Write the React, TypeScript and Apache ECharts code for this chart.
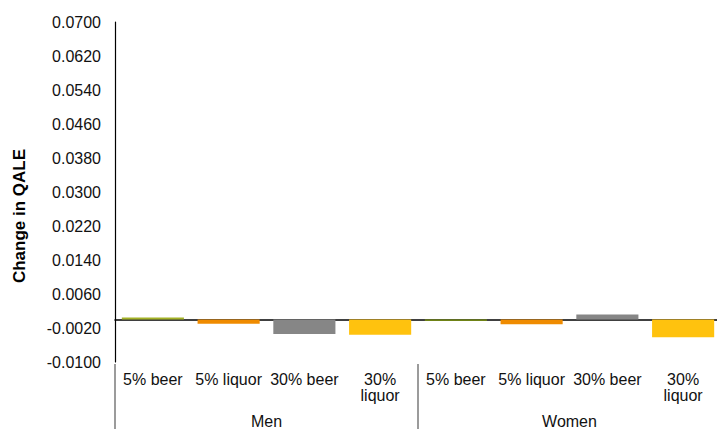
import React, { useEffect, useRef } from "react";
import * as echarts from "echarts";

// Beverage scenarios, grouped by sex
const categories = [
  "5% beer",
  "5% liquor",
  "30% beer",
  "30% liquor",
  "5% beer",
  "5% liquor",
  "30% beer",
  "30% liquor",
];
const groups = ["Men", "Women"];

// Change in quality-adjusted life expectancy per scenario
const qaleChange = [0.0005, -0.001, -0.0034, -0.0036, -0.0003, -0.0011, 0.0012, -0.0042];

// Bar fill for each scenario
const barColors = [
  "#a4b226",
  "#ef8b00",
  "#868686",
  "#ffc20e",
  "#7f9a08",
  "#ef8b00",
  "#868686",
  "#ffc20e",
];

// Y axis range and step
const yMin = -0.01;
const yMax = 0.07;
const yStep = 0.008;

const FONT = "Liberation Sans";

export default function App() {
  const ref = useRef<HTMLDivElement>(null);

  useEffect(() => {
    if (!ref.current) return;
    const chart = echarts.init(ref.current, null, { renderer: "svg" });
    chart.setOption({
      animation: false,
      backgroundColor: "#ffffff",
      textStyle: { fontFamily: FONT },
      grid: {
        left: 115,
        top: 22,
        width: 606,
        height: 340,
        containLabel: false,
        outerBoundsMode: "none",
      },
      xAxis: [
        {
          type: "category",
          data: categories,
          axisLine: { show: true, onZero: true, lineStyle: { color: "#000", width: 1.5 } },
          axisTick: { show: false },
          axisLabel: {
            interval: 0,
            margin: 9,
            fontSize: 16,
            color: "#111",
            fontFamily: FONT,
            lineHeight: 16,
            formatter: (v: string) => v.replace("30% liquor", "30%\nliquor"),
          },
          splitLine: { show: false },
        },
        {
          type: "category",
          data: groups,
          position: "bottom",
          offset: 2,
          axisLine: { show: false },
          axisTick: {
            show: true,
            interval: 0,
            length: 68,
            lineStyle: { color: "#7a7a7a", width: 1.5 },
          },
          axisLabel: {
            interval: 0,
            margin: 49,
            fontSize: 16,
            color: "#111",
            fontFamily: FONT,
          },
          splitLine: { show: false },
        },
      ],
      yAxis: {
        type: "value",
        min: yMin,
        max: yMax,
        interval: yStep,
        name: "Change in QALE",
        nameLocation: "middle",
        nameGap: 87,
        nameTextStyle: {
          fontSize: 17,
          fontWeight: "bold",
          color: "#000",
          fontFamily: FONT,
          padding: [0, 48, 0, 0],
        },
        axisLine: { show: true, lineStyle: { color: "#000", width: 1.2 } },
        axisTick: { show: false },
        splitLine: { show: false },
        axisLabel: {
          margin: 14,
          fontSize: 16,
          color: "#111",
          fontFamily: FONT,
          formatter: (v: number) => v.toFixed(4),
        },
      },
      series: [
        {
          type: "bar",
          xAxisIndex: 0,
          barWidth: "82%",
          data: qaleChange.map((v, i) => ({ value: v, itemStyle: { color: barColors[i] } })),
        },
      ],
    });
    return () => chart.dispose();
  }, []);

  return (
    <div
      ref={ref}
      style={{ position: "fixed", left: 0, top: 0, width: 717, height: 429, background: "#fff" }}
    />
  );
}
